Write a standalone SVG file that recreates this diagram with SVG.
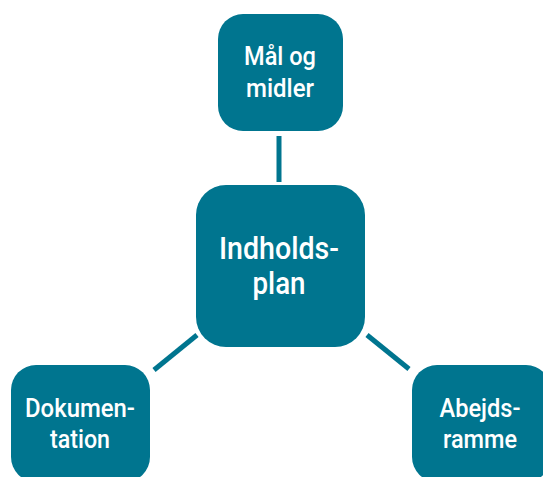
<svg xmlns="http://www.w3.org/2000/svg" width="543" height="477" viewBox="0 0 543 477">
<style>
.box{fill:#00758F}
.t{fill:#fff;font-family:Roboto,"Liberation Sans",sans-serif;font-weight:500;text-anchor:middle;font-size:25px}
.tc{font-size:32px}
.conn{stroke:#00758F;stroke-width:5;fill:none}
</style>
<rect width="543" height="477" fill="#fff"/>
<g id="connectors">
<line class="conn" x1="279" y1="136" x2="279" y2="182"/>
<line class="conn" x1="154" y1="370" x2="197" y2="335"/>
<line class="conn" x1="367" y1="335" x2="409" y2="369"/>
</g>
<g id="center">
<rect class="box" x="196" y="185" width="169" height="162" rx="30"/>
<text class="t tc" x="279" y="259" textLength="120" lengthAdjust="spacingAndGlyphs">Indholds-</text>
<text class="t tc" x="279" y="294" textLength="53" lengthAdjust="spacingAndGlyphs">plan</text>
</g>
<g id="top">
<rect class="box" x="218" y="14" width="125" height="117" rx="25"/>
<text class="t" x="280" y="65" textLength="72" lengthAdjust="spacingAndGlyphs">Mål og</text>
<text class="t" x="280" y="97" textLength="68" lengthAdjust="spacingAndGlyphs">midler</text>
</g>
<g id="left">
<rect class="box" x="11" y="365" width="139" height="117" rx="25"/>
<text class="t" x="80" y="417" textLength="110" lengthAdjust="spacingAndGlyphs">Dokumen-</text>
<text class="t" x="80" y="448" textLength="60" lengthAdjust="spacingAndGlyphs">tation</text>
</g>
<g id="right">
<rect class="box" x="412" y="365" width="139" height="117" rx="25"/>
<text class="t" x="480" y="417" textLength="81" lengthAdjust="spacingAndGlyphs">Abejds-</text>
<text class="t" x="480" y="448" textLength="74" lengthAdjust="spacingAndGlyphs">ramme</text>
</g>
</svg>
